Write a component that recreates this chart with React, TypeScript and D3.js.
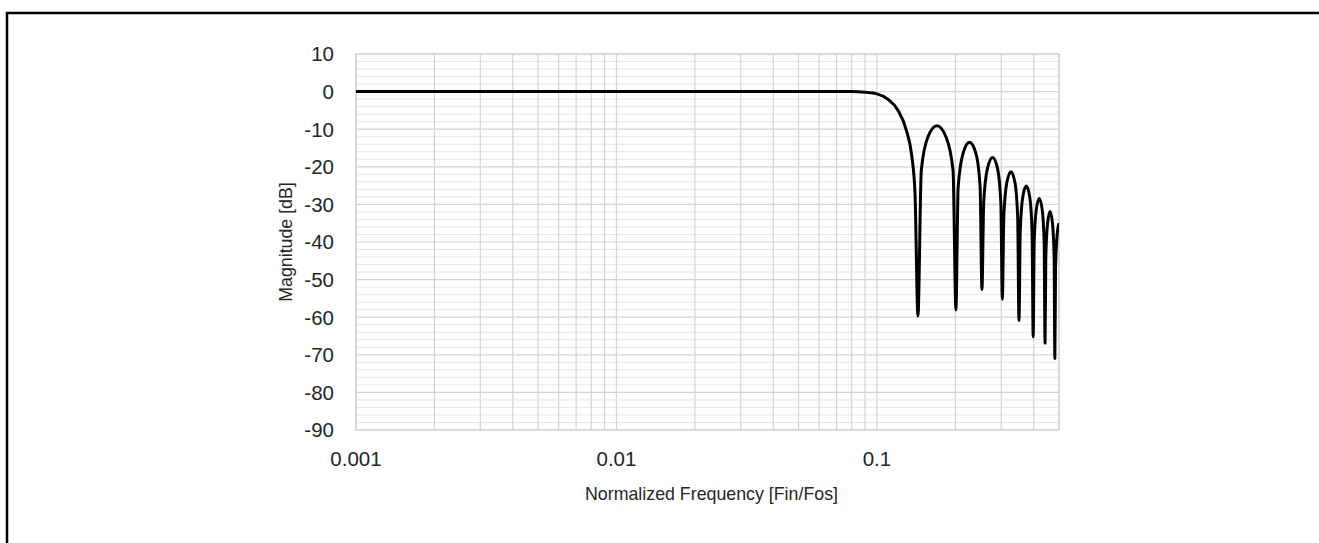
import { useRef, useEffect } from "react";
import * as d3 from "d3";

// frequency response (normalized freq, dB)
const freqs = [
  0.001, 0.05, 0.08, 0.09, 0.1, 0.11, 0.12, 0.13, 0.136, 0.14, 0.1437,
  0.148, 0.157, 0.17, 0.184, 0.196, 0.201,
  0.205, 0.214, 0.2266, 0.24, 0.249, 0.253,
  0.257, 0.2655, 0.278, 0.2905, 0.299, 0.303,
  0.307, 0.315, 0.327, 0.339, 0.347, 0.351,
  0.355, 0.363, 0.3745, 0.386, 0.394, 0.398,
  0.4015, 0.409, 0.42, 0.431, 0.4385, 0.442,
  0.445, 0.452, 0.462, 0.472, 0.479, 0.482,
  0.485, 0.492, 0.5,
];
const magnitudes = [
  0, 0, 0, -0.2, -0.6, -2.0, -4.8, -10.5, -17, -27, -59.7,
  -21, -12, -9.1, -12, -21, -58.1,
  -25.5, -16.5, -13.5, -16.5, -25.5, -52.6,
  -29.5, -20.5, -17.5, -20.5, -29.5, -55.2,
  -33.3, -24.3, -21.3, -24.3, -33.3, -60.9,
  -37, -28, -25.1, -28, -37, -65.2,
  -40, -31.4, -28.4, -31.4, -40, -66.9,
  -44, -35, -31.9, -35, -44, -71,
  -47, -38, -35,
];

const yTicks = [10, 0, -10, -20, -30, -40, -50, -60, -70, -80, -90];
const xTickLabels = ["0.001", "0.01", "0.1"];
const xDomain = [0.001, 0.5];

export default function App() {
  const svgRef = useRef<SVGSVGElement | null>(null);

  useEffect(() => {
    if (!svgRef.current) return;
    const svg = d3.select(svgRef.current);
    svg.selectAll("*").remove();

    const left = 356, right = 1059, top = 54, bottom = 430;
    const font = "'Liberation Sans', Arial, sans-serif";
    const textColor = "#262626";

    const x = d3.scaleLog().domain(xDomain).range([left, right]);
    const y = d3.scaleLinear().domain([10, -90]).range([top, bottom]);

    // outer frame (top and left edges only)
    svg.append("line").attr("x1", 6).attr("x2", 1319).attr("y1", 13).attr("y2", 13)
      .attr("stroke", "#000").attr("stroke-width", 2.5);
    svg.append("line").attr("x1", 7).attr("x2", 7).attr("y1", 12).attr("y2", 543)
      .attr("stroke", "#000").attr("stroke-width", 2.5);

    // minor horizontal grid every 2 dB
    const minorY = d3.range(-90, 10.1, 2).filter((v) => v % 10 !== 0);
    svg.append("g").selectAll("line").data(minorY).join("line")
      .attr("x1", left).attr("x2", right)
      .attr("y1", (d) => y(d)).attr("y2", (d) => y(d))
      .attr("stroke", "#e6e6e6").attr("stroke-width", 1);

    // vertical grid: 1..9 per decade
    const vx: number[] = [];
    [0.001, 0.01, 0.1].forEach((dec) => {
      for (let k = 1; k <= 9; k++) {
        const v = dec * k;
        if (v <= xDomain[1] + 1e-9) vx.push(v);
      }
    });
    svg.append("g").selectAll("line").data(vx).join("line")
      .attr("x1", (d) => x(d)).attr("x2", (d) => x(d))
      .attr("y1", top).attr("y2", bottom)
      .attr("stroke", "#d4d4d4").attr("stroke-width", 1.2);

    // major horizontal grid
    svg.append("g").selectAll("line").data(yTicks).join("line")
      .attr("x1", left).attr("x2", right)
      .attr("y1", (d) => y(d)).attr("y2", (d) => y(d))
      .attr("stroke", "#d4d4d4").attr("stroke-width", 1.2);

    svg.append("rect").attr("x", left).attr("y", top)
      .attr("width", right - left).attr("height", bottom - top)
      .attr("fill", "none").attr("stroke", "#d0d0d0").attr("stroke-width", 1.2);

    // y tick labels
    svg.append("g").selectAll("text").data(yTicks).join("text")
      .attr("x", 334).attr("y", (d) => y(d)).attr("dy", "0.36em")
      .attr("text-anchor", "end")
      .style("font-family", font).style("font-size", "20.5px").attr("fill", textColor)
      .text((d) => d);

    // x tick labels
    svg.append("g").selectAll("text").data(xTickLabels).join("text")
      .attr("x", (d) => x(+d)).attr("y", 466)
      .attr("text-anchor", "middle")
      .style("font-family", font).style("font-size", "20.5px").attr("fill", textColor)
      .text((d) => d);

    // axis titles
    svg.append("text")
      .attr("x", (left + right) / 2 + 4).attr("y", 500)
      .attr("text-anchor", "middle")
      .style("font-family", font).style("font-size", "17.8px").attr("fill", textColor)
      .text("Normalized Frequency [Fin/Fos]");

    svg.append("text")
      .attr("transform", `translate(292,${(top + bottom) / 2}) rotate(-90)`)
      .attr("text-anchor", "middle")
      .style("font-family", font).style("font-size", "17.8px").attr("fill", textColor)
      .text("Magnitude [dB]");

    // response curve
    svg.append("clipPath").attr("id", "plotClip")
      .append("rect").attr("x", left).attr("y", top - 5)
      .attr("width", right - left).attr("height", bottom - top + 10);

    const pts = freqs.map((f, i) => [f, magnitudes[i]] as [number, number]);
    const line = d3.line<[number, number]>()
      .x((d) => x(d[0]))
      .y((d) => y(d[1]))
      .curve(d3.curveMonotoneX);

    svg.append("path")
      .attr("clip-path", "url(#plotClip)")
      .attr("d", line(pts))
      .attr("fill", "none")
      .attr("stroke", "#000")
      .attr("stroke-width", 3)
      .attr("stroke-linejoin", "round");
  }, []);

  return (
    <div style={{ position: "absolute", left: 0, top: 0, width: 1319, height: 543, background: "#fff" }}>
      <svg ref={svgRef} width={1319} height={543} style={{ display: "block" }} />
    </div>
  );
}
